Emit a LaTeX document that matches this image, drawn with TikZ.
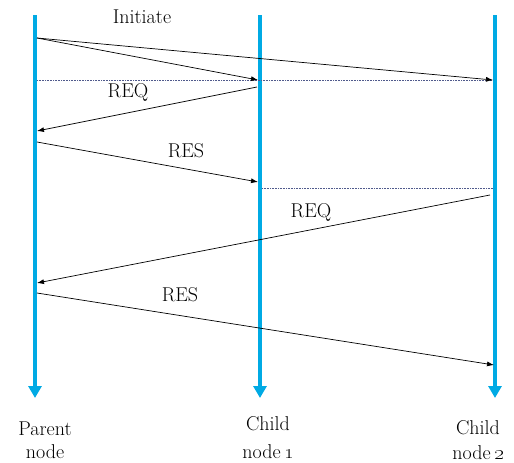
\documentclass[tikz,border=0pt]{standalone}
\usetikzlibrary{arrows.meta}
\definecolor{life}{RGB}{0,170,228}
\definecolor{dotc}{RGB}{80,90,140}
\begin{document}
\begin{tikzpicture}[x=1pt,y=-1pt,
  lifeline/.style={draw=life,line width=3.6pt,-{Triangle[width=13pt,length=12pt]}},
  msg/.style={draw=black,line width=0.7pt,-{Latex[length=7pt,width=5pt]}},
  sync/.style={draw=dotc,line width=0.6pt,densely dotted},
  lbl/.style={font=\fontsize{20}{24}\selectfont,inner sep=0pt},
  lifename/.style={font=\fontsize{20}{25}\selectfont,align=center,inner sep=0pt}]
\useasboundingbox (0,0) rectangle (514,463);
% lifelines
\coordinate (pT) at (35,15);  \coordinate (pB) at (35,398);
\coordinate (c1T) at (260,15); \coordinate (c1B) at (260,398);
\coordinate (c2T) at (495,15); \coordinate (c2B) at (495,398);
\draw[lifeline] (pT) -- (pB);
\draw[lifeline] (c1T) -- (c1B);
\draw[lifeline] (c2T) -- (c2B);
% message end points
\coordinate (p1) at (37,38);
\coordinate (a1) at (258,80);
\coordinate (a2) at (493,80);
\coordinate (d1s) at (37,80);
\coordinate (b1) at (257,87);
\coordinate (p2) at (37,131);
\coordinate (p3) at (37,142);
\coordinate (b2) at (258,182);
\coordinate (d2s) at (262,188);
\coordinate (d2e) at (494,188);
\coordinate (c1) at (490,195);
\coordinate (p4) at (37,283);
\coordinate (p5) at (37,293);
\coordinate (c2) at (494,365);
% sync lines
\draw[sync] (d1s) -- (a2);
\draw[sync] (d2s) -- (d2e);
% messages
\draw[msg] (p1) -- (a1);
\draw[msg] (p1) -- (a2);
\draw[msg] (b1) -- (p2);
\draw[msg] (p3) -- (b2);
\draw[msg] (c1) -- (p4);
\draw[msg] (p5) -- (c2);
% labels
\node[lbl] (init) at (142,17) {Initiate};
\node[lbl] (req1) at (128,92) {REQ};
\node[lbl] (res1) at (186,151) {RES};
\node[lbl] (req2) at (311,212) {REQ};
\node[lbl] (res2) at (180,295) {RES};
\node[lifename,anchor=base] (np) at (45,458) {Parent\\[-2pt]node};
\node[lifename,anchor=base] (nc1) at (268,458) {Child\\[3pt]node\,\oldstylenums{1}};
\node[lifename,anchor=base] (nc2) at (478,459) {Child\\node\,\oldstylenums{2}};
\end{tikzpicture}
\end{document}
